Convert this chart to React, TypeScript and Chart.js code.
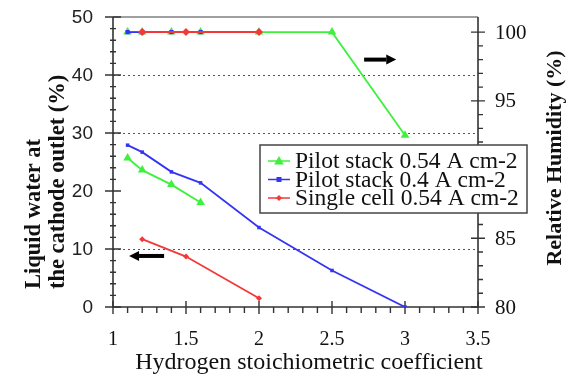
import React, { useEffect, useRef } from 'react';
import { Chart, registerables } from 'chart.js';

Chart.register(...registerables);

// ---- data ----
const xGreen = [1.1, 1.2, 1.4, 1.6];
const waterGreen = [25.7, 23.6, 21.1, 18.0];
const xGreenRH = [1.1, 1.2, 1.4, 1.6, 2.0, 2.5, 3.0];
const humidityGreen = [100, 100, 100, 100, 100, 100, 92.5];

const xBlue = [1.1, 1.2, 1.4, 1.6, 2.0, 2.5, 3.0];
const waterBlue = [27.9, 26.7, 23.3, 21.4, 13.7, 6.3, 0];
const xBlueRH = [1.1, 1.2, 1.4, 1.6];
const humidityBlue = [100, 100, 100, 100];

const xRed = [1.2, 1.5, 2.0];
const waterRed = [11.7, 8.7, 1.5];
const humidityRed = [100, 100, 100];

const waterGridValues = [10, 30, 40];
const seriesLabels = ['Pilot stack 0.54 A cm-2', 'Pilot stack 0.4 A cm-2', 'Single cell 0.54 A cm-2'];
const xTitle = 'Hydrogen stoichiometric coefficient';
const leftTitle = ['Liquid water at', 'the cathode outlet (%)'];
const rightTitle = 'Relative Humidity (%)';

const GREEN = '#3ff03f';
const BLUE = '#3434f4';
const RED = '#f43838';

const pts = (xs: number[], ys: number[]) => xs.map((x, i) => ({ x, y: ys[i] }));

function drawMarker(ctx: CanvasRenderingContext2D, kind: string, x: number, y: number, r: number, color: string) {
  ctx.fillStyle = color;
  ctx.beginPath();
  if (kind === 'triangle') {
    ctx.moveTo(x, y - r);
    ctx.lineTo(x + r * 0.95, y + r * 0.7);
    ctx.lineTo(x - r * 0.95, y + r * 0.7);
  } else if (kind === 'rect') {
    ctx.rect(x - r, y - r, 2 * r, 2 * r);
  } else {
    ctx.moveTo(x, y - r);
    ctx.lineTo(x + r, y);
    ctx.lineTo(x, y + r);
    ctx.lineTo(x - r, y);
  }
  ctx.closePath();
  ctx.fill();
}

function drawArrow(ctx: CanvasRenderingContext2D, xFrom: number, xTo: number, y: number) {
  const dir = xTo > xFrom ? 1 : -1;
  const head = 10;
  ctx.strokeStyle = '#000';
  ctx.fillStyle = '#000';
  ctx.lineWidth = 4;
  ctx.beginPath();
  ctx.moveTo(xFrom, y);
  ctx.lineTo(xTo - dir * head, y);
  ctx.stroke();
  ctx.beginPath();
  ctx.moveTo(xTo, y);
  ctx.lineTo(xTo - dir * head, y - 5);
  ctx.lineTo(xTo - dir * head, y + 5);
  ctx.closePath();
  ctx.fill();
}

const decor = {
  id: 'decor',
  beforeDatasetsDraw(chart: any) {
    const { ctx, chartArea: a, scales } = chart;
    const xs = scales.x, yl = scales.yWater, yr = scales.yHumidity;
    ctx.save();
    // dotted grid lines
    ctx.strokeStyle = '#555';
    ctx.lineWidth = 1;
    ctx.setLineDash([2, 3]);
    for (const v of waterGridValues) {
      const y = Math.round(yl.getPixelForValue(v)) + 0.5;
      ctx.beginPath();
      ctx.moveTo(a.left, y);
      ctx.lineTo(a.right, y);
      ctx.stroke();
    }
    ctx.setLineDash([]);
    // top border
    ctx.strokeStyle = '#a0a0a0';
    ctx.lineWidth = 2;
    ctx.beginPath();
    ctx.moveTo(a.left, a.top);
    ctx.lineTo(a.right, a.top);
    ctx.stroke();
    // axes
    ctx.strokeStyle = '#333';
    ctx.lineWidth = 1.6;
    ctx.beginPath();
    ctx.moveTo(a.left, a.top);
    ctx.lineTo(a.left, a.bottom);
    ctx.lineTo(a.right, a.bottom);
    ctx.moveTo(a.right, a.top);
    ctx.lineTo(a.right, a.bottom);
    ctx.stroke();
    // ticks
    ctx.lineWidth = 1.4;
    ctx.beginPath();
    for (let v = 0; v <= 50; v += 2) {
      const y = yl.getPixelForValue(v);
      const major = v % 10 === 0;
      ctx.moveTo(a.left - (major ? 8 : 3), y);
      ctx.lineTo(a.left + (major ? 8 : 3), y);
    }
    for (let i = 10; i <= 35; i++) {
      const v = i / 10;
      const x = xs.getPixelForValue(v);
      const major = i % 5 === 0;
      ctx.moveTo(x, a.bottom - (major ? 6 : 0));
      ctx.lineTo(x, a.bottom + (major ? 7 : 6));
    }
    for (let v = 80; v <= 100; v += 1) {
      const y = yr.getPixelForValue(v);
      const major = v % 5 === 0;
      ctx.moveTo(a.right - (major ? 7 : 0), y);
      ctx.lineTo(a.right + (major ? 7 : 5), y);
    }
    ctx.stroke();
    // y tick labels from the scales' own ticks
    ctx.textBaseline = 'middle';
    ctx.fillStyle = '#222';
    ctx.font = '19px "Liberation Sans"';
    ctx.textAlign = 'right';
    for (const t of yl.ticks) {
      ctx.fillText(String(t.value), a.left - 20, yl.getPixelForValue(t.value) + 1);
    }
    ctx.fillStyle = '#111';
    ctx.font = '21px "Liberation Serif"';
    ctx.textAlign = 'left';
    for (const t of yr.ticks) {
      ctx.fillText(String(t.value), a.right + 17, yr.getPixelForValue(t.value) + 1);
    }
    ctx.restore();
  },
  afterDatasetsDraw(chart: any) {
    const { ctx, scales } = chart;
    const xs = scales.x, yl = scales.yWater, yr = scales.yHumidity;
    ctx.save();
    drawArrow(ctx, xs.getPixelForValue(2.72), xs.getPixelForValue(2.94), yr.getPixelForValue(98.0));
    drawArrow(ctx, xs.getPixelForValue(1.35), xs.getPixelForValue(1.11), yl.getPixelForValue(8.8));
    ctx.restore();
  },
  afterDraw(chart: any) {
    const { ctx } = chart;
    ctx.save();
    // x title
    ctx.fillStyle = '#111';
    ctx.font = '24px "Liberation Serif"';
    ctx.textAlign = 'center';
    ctx.textBaseline = 'middle';
    ctx.fillText(xTitle, 309, 363);
    // left title (two lines, bottom aligned)
    ctx.font = 'bold 22.5px "Liberation Serif"';
    ctx.textAlign = 'left';
    ctx.save();
    ctx.translate(34, 289);
    ctx.rotate(-Math.PI / 2);
    ctx.fillText(leftTitle[0], 0, 0);
    ctx.restore();
    ctx.save();
    ctx.translate(58, 289);
    ctx.rotate(-Math.PI / 2);
    ctx.fillText(leftTitle[1], 0, 0);
    ctx.restore();
    // right title
    ctx.textAlign = 'center';
    ctx.font = 'bold 22px "Liberation Serif"';
    ctx.save();
    ctx.translate(555, 158);
    ctx.rotate(-Math.PI / 2);
    ctx.fillText(rightTitle, 0, 0);
    ctx.restore();
    // legend
    const bx = 260, by = 145, bw = 267, bh = 68;
    ctx.fillStyle = '#fff';
    ctx.fillRect(bx, by, bw, bh);
    ctx.strokeStyle = '#444';
    ctx.lineWidth = 1.5;
    ctx.strokeRect(bx, by, bw, bh);
    const rows = [161, 179.5, 198];
    const colors = [GREEN, BLUE, RED];
    const kinds = ['triangle', 'rect', 'diamond'];
    const radii = [5, 2.5, 3];
    ctx.font = '23.5px "Liberation Serif"';
    ctx.textAlign = 'left';
    ctx.textBaseline = 'middle';
    rows.forEach((ry, i) => {
      ctx.strokeStyle = colors[i];
      ctx.lineWidth = 1.5;
      ctx.beginPath();
      ctx.moveTo(268, ry);
      ctx.lineTo(290, ry);
      ctx.stroke();
      drawMarker(ctx, kinds[i], 279, ry, radii[i], colors[i]);
      ctx.fillStyle = '#111';
      ctx.fillText(seriesLabels[i], 295, ry + 1);
    });
    ctx.restore();
  },
};

export default function App() {
  const ref = useRef<HTMLCanvasElement | null>(null);
  useEffect(() => {
    document.body.style.margin = '0';
    const canvas = ref.current;
    if (!canvas) return;
    const common = { borderWidth: 1.8, fill: false, tension: 0 };
    const chart = new Chart(canvas, {
      type: 'line',
      data: {
        datasets: [
          { ...common, borderWidth: 2, label: seriesLabels[2] + ' RH', data: pts(xRed, humidityRed), yAxisID: 'yHumidity', borderColor: RED, backgroundColor: RED, pointStyle: 'rectRot', pointRadius: 4, pointBorderWidth: 0, order: 0 },
          { ...common, label: seriesLabels[2], data: pts(xRed, waterRed), yAxisID: 'yWater', borderColor: RED, backgroundColor: RED, pointStyle: 'rectRot', pointRadius: 3, pointBorderWidth: 0, order: 1 },
          { ...common, label: seriesLabels[1] + ' RH', data: pts(xBlueRH, humidityBlue), yAxisID: 'yHumidity', borderColor: BLUE, backgroundColor: BLUE, pointStyle: 'rect', pointRadius: 3, pointBorderWidth: 0, order: 2 },
          { ...common, label: seriesLabels[1], data: pts(xBlue, waterBlue), yAxisID: 'yWater', borderColor: BLUE, backgroundColor: BLUE, pointStyle: 'rect', pointRadius: 2.5, pointBorderWidth: 0, order: 3 },
          { ...common, label: seriesLabels[0] + ' RH', data: pts(xGreenRH, humidityGreen), yAxisID: 'yHumidity', borderColor: GREEN, backgroundColor: GREEN, pointStyle: 'triangle', pointRadius: 5, pointBorderWidth: 0, order: 4 },
          { ...common, label: seriesLabels[0], data: pts(xGreen, waterGreen), yAxisID: 'yWater', borderColor: GREEN, backgroundColor: GREEN, pointStyle: 'triangle', pointRadius: 5, pointBorderWidth: 0, order: 5 },
        ],
      },
      options: {
        animation: false,
        responsive: false,
        devicePixelRatio: 1,
        layout: { padding: { top: 17, left: 0, right: 0, bottom: 0 } },
        plugins: { legend: { display: false }, tooltip: { enabled: false }, title: { display: false } },
        scales: {
          x: {
            type: 'linear',
            min: 1,
            max: 3.5,
            grid: { display: false },
            border: { display: false },
            ticks: {
              stepSize: 0.5,
              autoSkip: false,
              maxRotation: 0,
              padding: 13,
              color: '#111',
              font: { family: 'Liberation Serif', size: 20 },
              callback: (v: any) => String(v),
            },
            afterFit: (s: any) => { s.height = 71; },
          },
          yWater: {
            type: 'linear',
            position: 'left',
            min: 0,
            max: 50,
            grid: { display: false },
            border: { display: false },
            ticks: { stepSize: 10, display: false },
            afterFit: (s: any) => { s.width = 113; },
          },
          yHumidity: {
            type: 'linear',
            position: 'right',
            min: 80,
            max: 101.1,
            grid: { display: false },
            border: { display: false },
            ticks: { stepSize: 5, includeBounds: false, display: false },
            afterFit: (s: any) => { s.width = 92; },
          },
        },
      },
      plugins: [decor],
    } as any);
    return () => chart.destroy();
  }, []);
  return <canvas ref={ref} width={570} height={378} style={{ display: 'block' }} />;
}
